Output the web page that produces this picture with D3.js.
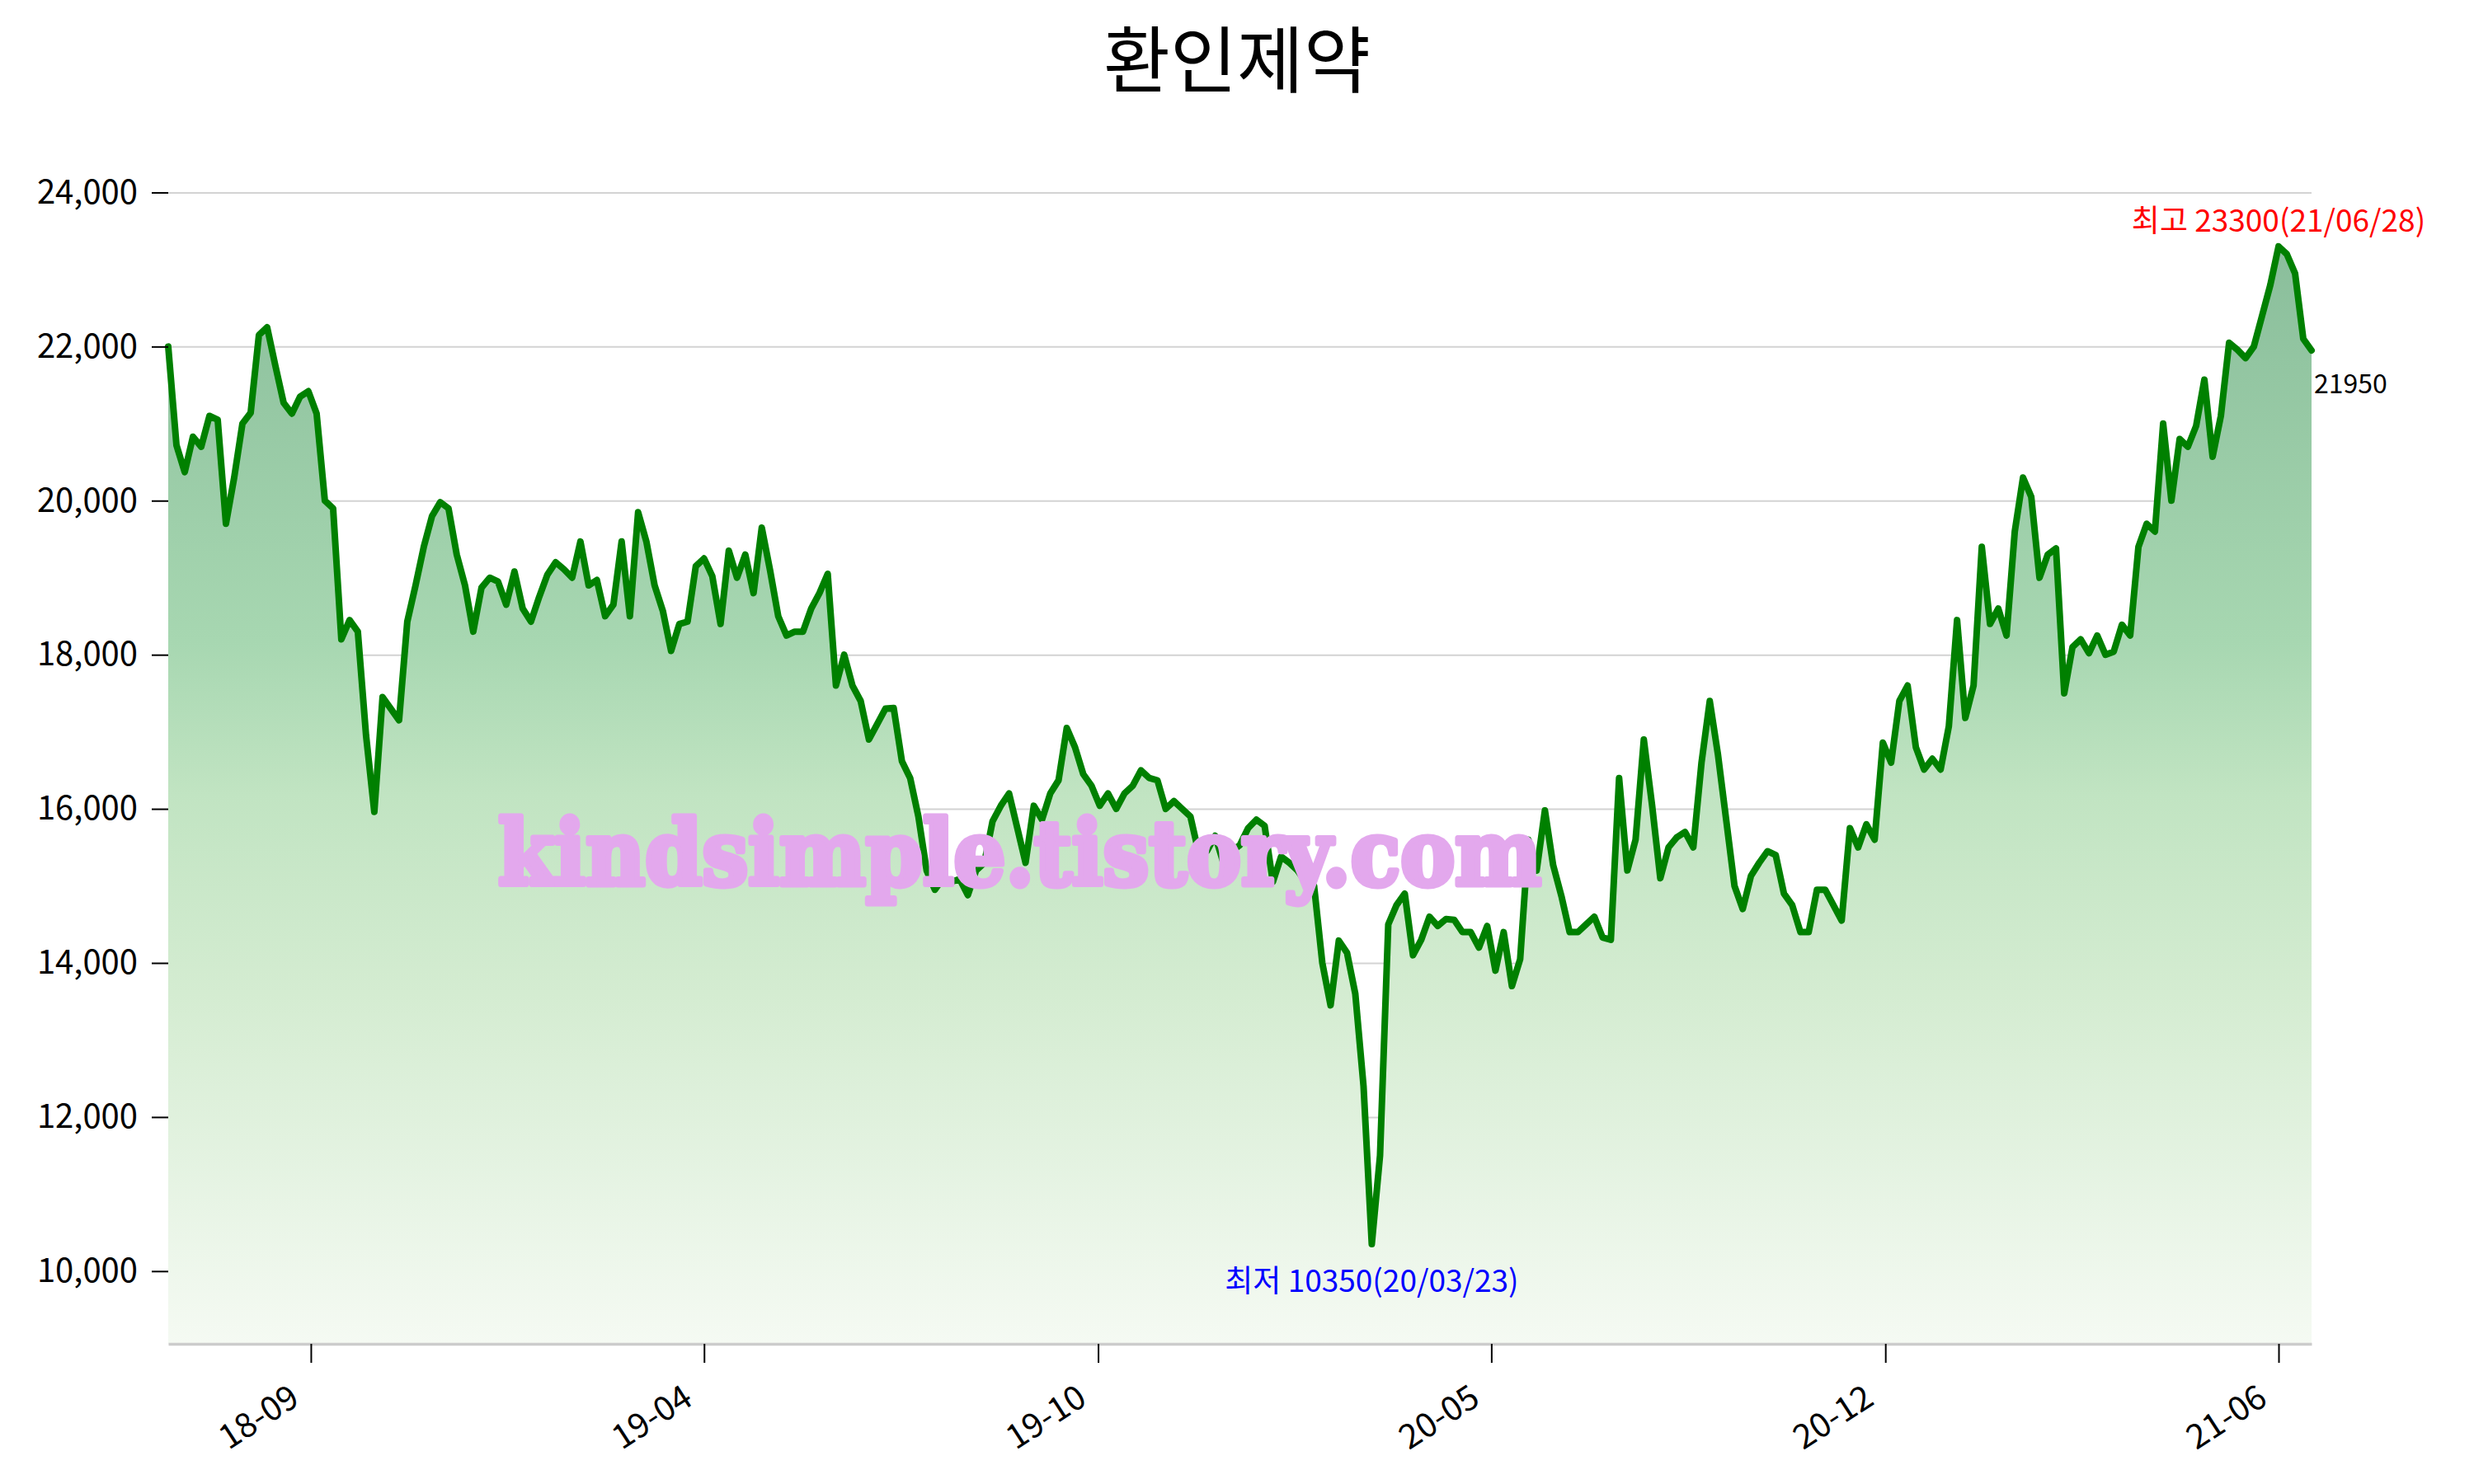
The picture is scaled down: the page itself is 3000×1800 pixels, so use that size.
<!DOCTYPE html>
<html>
<head>
<meta charset="utf-8">
<script src="https://cdn.jsdelivr.net/npm/d3@7"></script>
<style>
  body { margin: 0; background: #fff; }
  text { font-family: "Noto Sans CJK KR", "Noto Sans", sans-serif; }
</style>
</head>
<body>
<div id="chart"></div>
<script>
// 종가 (거래일 기준 일정 간격 샘플, 18-07 ~ 21-07)
const prices = [
  22000,20720,20370,20830,20700,21100,21050,19700,20300,21000,
  21140,22150,22250,21750,21270,21130,21350,21420,21130,20000,
  19900,18200,18450,18300,16950,15960,17450,17300,17150,18430,
  18900,19400,19800,19980,19900,19300,18900,18300,18870,19000,
  18950,18650,19080,18600,18430,18750,19040,19200,19110,19000,
  19470,18900,18970,18500,18650,19470,18500,19850,19470,18900,
  18570,18050,18400,18430,19150,19250,19020,18400,19350,19000,
  19300,18800,19650,19100,18500,18250,18300,18300,18600,18800,
  19050,17600,18000,17600,17400,16900,17100,17300,17310,16620,
  16400,15900,15200,14950,15100,15050,15090,14880,15200,15300,
  15840,16040,16200,15750,15300,16040,15860,16200,16370,17050,
  16800,16450,16300,16040,16200,16000,16200,16300,16500,16400,
  16370,16000,16100,16000,15900,15430,15450,15650,15300,15450,
  15530,15750,15860,15780,15050,15380,15300,15200,15050,15000,
  14000,13450,14290,14130,13600,12400,10350,11500,14500,14750,
  14900,14100,14300,14600,14480,14570,14560,14400,14400,14200,
  14480,13900,14400,13700,14050,15600,15200,15980,15270,14870,
  14400,14400,14500,14600,14330,14300,16400,15200,15600,16900,
  16050,15100,15500,15630,15700,15500,16600,17400,16700,15850,
  15000,14700,15130,15300,15450,15400,14900,14750,14400,14400,
  14950,14950,14750,14550,15750,15500,15800,15600,16860,16600,
  17400,17600,16800,16510,16650,16510,17070,18450,17180,17600,
  19400,18400,18600,18250,19600,20300,20050,19000,19300,19380,
  17500,18100,18200,18020,18250,18000,18040,18390,18250,19400,
  19700,19600,21000,20000,20800,20700,20970,21570,20570,21100,
  22050,21960,21850,22000,22400,22800,23300,23200,22950,22100,
  21950
];

// x축 눈금 (샘플 인덱스 위치와 라벨)
const tickIdx = [17.3, 65.0, 112.8, 160.5, 208.3, 256.0];
const tickLabels = ["18-09", "19-04", "19-10", "20-05", "20-12", "21-06"];
const yTickValues = [10000, 12000, 14000, 16000, 18000, 20000, 22000, 24000];

const title = "환인제약";
const maxDate = "21/06/28";
const minDate = "20/03/23";
const watermark = "kindsimple.tistory.com";

// 차트 크기
const W = 3000, H = 1800;
const margin = { top: 190, right: 197, bottom: 170, left: 204 };
const width = W - margin.left - margin.right;
const height = H - margin.top - margin.bottom;

const svg = d3.select("#chart")
    .append("svg")
    .attr("width", W)
    .attr("height", H);

const g = svg.append("g")
    .attr("transform", `translate(${margin.left},${margin.top})`);

const minV = d3.min(prices), maxV = d3.max(prices);
const minI = d3.minIndex(prices), maxI = d3.maxIndex(prices);
const lastI = prices.length - 1;

// 스케일
const x = d3.scaleLinear().domain([0, lastI]).range([0, width]);
const y = d3.scaleLinear().domain([minV * 0.875, maxV * 1.05]).range([height, 0]);

// 그라데이션
const grad = svg.append("defs").append("linearGradient")
    .attr("id", "fillGrad")
    .attr("gradientUnits", "userSpaceOnUse")
    .attr("x1", 0).attr("x2", 0)
    .attr("y1", y(maxV)).attr("y2", height);
[[0, "#8abe9b"], [0.36, "#a7d7b1"], [0.5, "#c1e4c2"], [0.68, "#d4ecd1"], [1, "#f5faf3"]]
    .forEach(s => grad.append("stop").attr("offset", s[0]).attr("stop-color", s[1]));

// 격자선
const grid = g.append("g")
    .call(d3.axisLeft(y).tickValues(yTickValues).tickSize(-width).tickFormat(""));
grid.select(".domain").remove();
grid.selectAll("line").attr("stroke", "#d3d3d3").attr("stroke-width", 2);

// 영역 + 선
g.append("path")
    .datum(prices)
    .attr("fill", "url(#fillGrad)")
    .attr("d", d3.area().x((d, i) => x(i)).y0(height).y1(d => y(d)));

g.append("path")
    .datum(prices)
    .attr("fill", "none")
    .attr("stroke", "green")
    .attr("stroke-width", 8)
    .attr("stroke-linejoin", "round")
    .attr("stroke-linecap", "round")
    .attr("d", d3.line().x((d, i) => x(i)).y(d => y(d)));

// y축
const yAxis = g.append("g")
    .call(d3.axisLeft(y).tickValues(yTickValues).tickSize(20).tickPadding(17).tickFormat(d3.format(",")));
yAxis.select(".domain").remove();
yAxis.selectAll("line").attr("stroke", "#000").attr("stroke-width", 2);
yAxis.selectAll("text").style("font-size", "40px").attr("fill", "#000");

// x축
const xAxis = g.append("g")
    .attr("transform", `translate(0,${height})`)
    .call(d3.axisBottom(x).tickValues(tickIdx).tickFormat((d, i) => tickLabels[i])
        .tickSize(23).tickSizeOuter(0));
xAxis.select(".domain").attr("stroke", "#cccccc").attr("stroke-width", 3.5);
xAxis.selectAll(".tick line").attr("stroke", "#000").attr("stroke-width", 2);
xAxis.selectAll("text")
    .attr("x", 0).attr("y", 0).attr("dy", 0)
    .attr("transform", "translate(-12,72) rotate(-33)")
    .style("text-anchor", "end")
    .style("font-size", "41px")
    .attr("fill", "#000");

// 워터마크
svg.append("text")
    .attr("x", 604)
    .attr("y", 1073)
    .attr("textLength", 1265)
    .attr("lengthAdjust", "spacingAndGlyphs")
    .style("font-family", "'DejaVu Serif', serif")
    .style("font-weight", "bold")
    .style("font-size", "108px")
    .attr("fill", "#e3a8ed")
    .attr("stroke", "#e3a8ed")
    .attr("stroke-width", 7)
    .attr("stroke-linejoin", "round")
    .text(watermark);

// 최고 / 최저 / 마지막 값
g.append("text")
    .attr("x", x(maxI))
    .attr("y", y(maxV) - 18)
    .attr("text-anchor", "middle")
    .attr("fill", "red")
    .style("font-size", "37px")
    .text(`최고 ${maxV}(${maxDate})`);

g.append("text")
    .attr("x", x(minI))
    .attr("y", y(minV) + 58)
    .attr("text-anchor", "middle")
    .attr("fill", "blue")
    .style("font-size", "37px")
    .text(`최저 ${minV}(${minDate})`);

g.append("text")
    .attr("x", x(lastI) + 3)
    .attr("y", y(prices[lastI]) + 52)
    .attr("fill", "#000")
    .style("font-size", "32px")
    .text(prices[lastI]);

// 제목
svg.append("text")
    .attr("x", W / 2)
    .attr("y", 105)
    .attr("text-anchor", "middle")
    .style("font-size", "88px")
    .attr("fill", "#000")
    .text(title);
</script>
</body>
</html>
